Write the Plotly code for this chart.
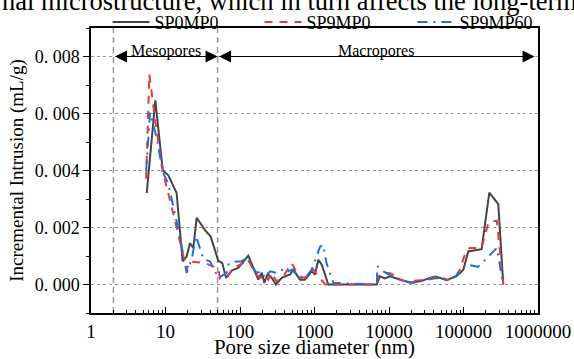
import math
import plotly.graph_objects as go

# ---------------- data ----------------
sp0mp0_d = [5.6, 7.3, 9.2, 10.9, 14.1, 17.0, 19.2, 21.3, 23.6, 26.2, 33.9, 40.4, 51.2, 57.9, 64.9,
            77.4, 94.9, 129, 176, 196, 212, 235, 267, 304, 363, 469, 520, 639, 745, 916, 1016,
            1125, 1250, 1531, 6840, 7570, 8830, 10300, 12680, 19100, 26100, 35500, 43600, 59400,
            81100, 99400, 116000, 175000, 222000, 293000, 342000]
sp0mp0_v = [0.00321, 0.00646, 0.00400, 0.00383, 0.00321, 0.00081, 0.00098, 0.00145, 0.00128,
            0.00234, 0.00191, 0.00168, 0.00083, 0.00075, 0.00023, 0.00049, 0.00058, 0.00101,
            0.00017, 0.00041, 0.00006, 0.00037, 0.00023, 0.00000, 0.00023, 0.00035, 0.00052,
            0.00017, 0.00017, 0.00046, 0.00035, 0.00087, 0.00070, 0.00000, 0.00000, 0.00029,
            0.00021, 0.00029, 0.00021, 0.00006, 0.00011, 0.00023, 0.00027, 0.00015, 0.00029,
            0.00052, 0.00116, 0.00124, 0.00322, 0.00282, 0.00000]

sp9mp0_d = [5.5, 6.07, 7.2, 9.2, 11.5, 14.9, 19.2, 21.3, 33.9, 51.2, 53.9, 66.3, 81.5, 122, 129,
            158, 185, 216, 240, 267, 309, 381, 495, 550, 672, 822, 960, 1390, 6840, 7190, 9300,
            10900, 12700, 17200, 26100, 46000, 59400, 76500, 89200, 104000, 121000, 175000,
            216000, 280000, 342000]
sp9mp0_v = [0.00371, 0.00738, 0.00585, 0.00394, 0.00296, 0.00174, 0.00052, 0.00081, 0.00075,
            0.00056, 0.00020, 0.00023, 0.00058, 0.00081, 0.00087, 0.00041, 0.00023, 0.00035,
            0.00017, 0.00041, 0.00011, 0.00029, 0.00075, 0.00052, 0.00023, 0.00029, 0.00052,
            0.00000, 0.00000, 0.00029, 0.00041, 0.00038, 0.00020, 0.00011, 0.00015, 0.00031,
            0.00017, 0.00023, 0.00052, 0.00104, 0.00128, 0.00128, 0.00218, 0.00224, 0.00000]

sp9mp60_d = [5.5, 6.2, 7.6, 9.2, 10.9, 12.7, 15.6, 19.2, 22.4, 25.7, 32.2, 39.5, 51.2, 66.3, 69.8,
             81.5, 105, 123, 143, 168, 195, 216, 253, 309, 363, 403, 495, 607, 745, 916, 1190,
             1310, 1450, 1610, 1790, 6840, 6990, 8420, 10900, 17200, 21200, 43600, 62400, 80200,
             109000, 157000, 216000, 280000, 342000]
sp9mp60_v = [0.00400, 0.00603, 0.00516, 0.00394, 0.00354, 0.00272, 0.00168, 0.00041, 0.00087,
             0.00170, 0.00089, 0.00081, 0.00023, 0.00041, 0.00070, 0.00081, 0.00081, 0.00093,
             0.00064, 0.00041, 0.00046, 0.00023, 0.00046, 0.00041, 0.00052, 0.00041, 0.00052,
             0.00029, 0.00023, 0.00052, 0.00133, 0.00139, 0.00075, 0.00041, 0.00006, 0.00000,
             0.00064, 0.00046, 0.00029, 0.00011, 0.00006, 0.00023, 0.00017, 0.00031, 0.00070,
             0.00062, 0.00098, 0.00128, 0.00000]

y_tickvals = [0.0, 0.002, 0.004, 0.006, 0.008]
y_ticktext = ["0. 000", "0. 002", "0. 004", "0. 006", "0. 008"]
meso_bounds = [2, 50]
macro_end = 900000
region_y = 0.008
region_labels = ["Mesopores", "Macropores"]
series_names = ["SP0MP0", "SP9MP0", "SP9MP60"]

SERIF = "Liberation Serif, Times New Roman, serif"

fig = go.Figure()
fig.add_trace(go.Scatter(x=sp0mp0_d, y=sp0mp0_v, mode="lines", name=series_names[0],
                         legend="legend",
                         line=dict(color="#454545", width=2)))
fig.add_trace(go.Scatter(x=sp9mp0_d, y=sp9mp0_v, mode="lines", name=series_names[1],
                         legend="legend2",
                         line=dict(color="#e8393f", width=2, dash="8px,7px")))
fig.add_trace(go.Scatter(x=sp9mp60_d, y=sp9mp60_v, mode="lines", name=series_names[2],
                         legend="legend3",
                         line=dict(color="#1f6fe2", width=2, dash="10px,6px,2px,6px")))

# vertical dashed boundaries
for b in meso_bounds:
    fig.add_shape(type="line", x0=b, x1=b, xref="x", y0=0, y1=1, yref="paper",
                  line=dict(color="#999999", width=1.5, dash="6px,4px"), layer="below")

# region arrows
def add_double_arrow(x0, x1, y):
    fig.add_annotation(x=math.log10(x1), y=y, ax=math.log10(x0), ay=y, xref="x", yref="y",
                       axref="x", ayref="y", text="", showarrow=True, arrowhead=2,
                       startarrowhead=2, arrowside="end+start", arrowsize=2.4,
                       startarrowsize=2.4, arrowwidth=1, arrowcolor="black")

add_double_arrow(meso_bounds[0], meso_bounds[1], region_y)
add_double_arrow(meso_bounds[1], macro_end, region_y)

fig.add_annotation(x=(math.log10(meso_bounds[0]) + math.log10(meso_bounds[1])) / 2, y=region_y,
                   xref="x", yref="y", text=region_labels[0], showarrow=False,
                   yanchor="bottom", yshift=-5, font=dict(family=SERIF, size=16, color="black"))
fig.add_annotation(x=(math.log10(meso_bounds[1]) + math.log10(macro_end)) / 2, y=region_y,
                   xref="x", yref="y", text=region_labels[1], showarrow=False,
                   yanchor="bottom", yshift=-5, font=dict(family=SERIF, size=16, color="black"))

# cropped page text at very top
fig.add_annotation(x=-0.2036, y=1.036, xref="paper", yref="paper", xanchor="left", yanchor="bottom",
                   text="nal microstructure, which in turn affects the long-term", showarrow=False,
                   font=dict(family=SERIF, size=26.5, color="black"))

legend_common = dict(orientation="h", xanchor="left", y=1.02, yanchor="middle",
                     font=dict(family=SERIF, size=18), bgcolor="rgba(0,0,0,0)", itemwidth=37)

fig.update_layout(
    width=574, height=359,
    margin=dict(l=91, r=36, t=28, b=46, autoexpand=False),
    paper_bgcolor="white", plot_bgcolor="white",
    font=dict(family=SERIF, size=15, color="black"),
    showlegend=True,
    legend=dict(x=0.037, **legend_common),
    legend2=dict(x=0.377, **legend_common),
    legend3=dict(x=0.719, **legend_common),
    xaxis=dict(type="log", range=[0, 6], tickmode="linear", tick0=0, dtick=1,
               tickformat="d",
               ticks="inside", ticklen=6, tickwidth=1, tickcolor="black",
               minor=dict(ticks="inside", ticklen=3, tickcolor="black", showgrid=False),
               showline=True, linecolor="black", linewidth=1.5, mirror=True,
               showgrid=False, zeroline=False,
               tickfont=dict(family=SERIF, size=19),
               title=dict(text="Pore size diameter (nm)", font=dict(family=SERIF, size=21), standoff=8)),
    yaxis=dict(range=[-0.001, 0.009], tickmode="array", tickvals=y_tickvals, ticktext=y_ticktext,
               ticks="outside", ticklen=6, tickwidth=1, tickcolor="black",
               minor=dict(ticks="outside", ticklen=3, dtick=0.001, tick0=0, tickcolor="black",
                          showgrid=False),
               showline=True, linecolor="black", linewidth=1.5, mirror=True,
               showgrid=True, gridcolor="#999999", griddash="dot", gridwidth=1, zeroline=False,
               tickfont=dict(family=SERIF, size=18),
               title=dict(text="Incremental Intrusion (mL/g)", font=dict(family=SERIF, size=19), standoff=6)),
)

fig.write_html("out.html", config={"displayModeBar": False},
               post_script="document.body.style.margin='0';")
